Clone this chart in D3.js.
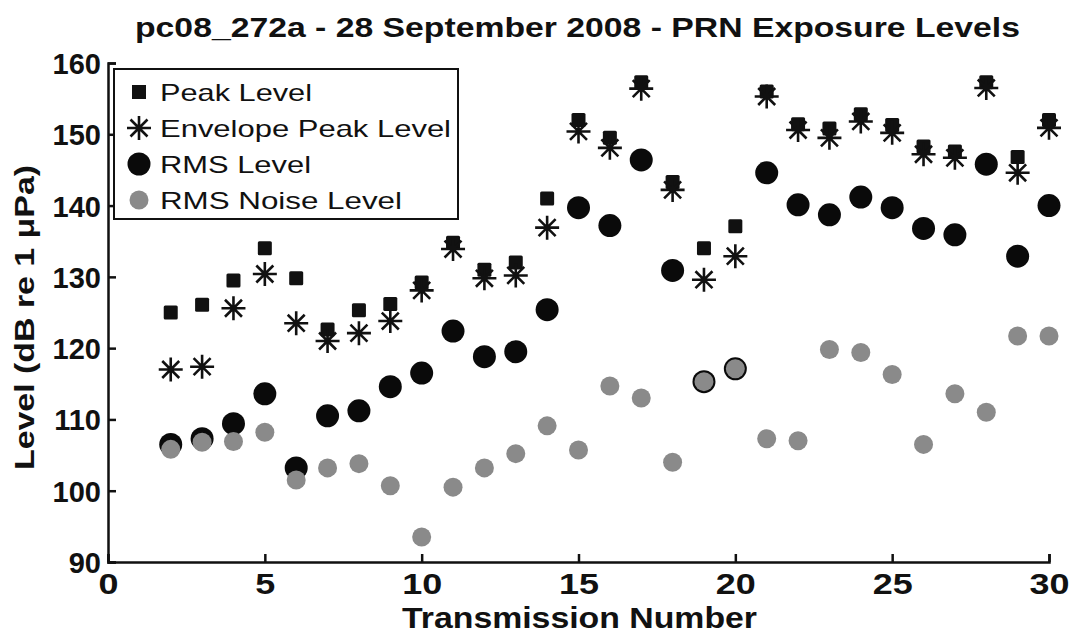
<!DOCTYPE html>
<html>
<head>
<meta charset="utf-8">
<script src="https://cdn.jsdelivr.net/npm/d3@7"></script>
<style>
  body { margin: 0; background: #fff; }
  svg { font-family: "Liberation Sans", Arial, sans-serif; }
</style>
</head>
<body>
<div id="chart"></div>
<script>
// transmission numbers and measured levels (dB re 1 uPa)
const transmissions = [2,3,4,5,6,7,8,9,10,11,12,13,14,15,16,17,18,19,20,21,22,23,24,25,26,27,28,29,30];
const peakLevel     = [125.0,126.1,129.5,134.0,129.8,122.6,125.3,126.2,129.2,134.8,131.0,132.0,141.0,152.0,149.5,157.3,143.3,134.0,137.1,156.0,151.4,150.8,152.8,151.3,148.3,147.6,157.3,146.8,152.0];
const envPeakLevel  = [117.0,117.4,125.6,130.4,123.5,121.0,122.1,123.8,128.1,133.9,129.8,130.2,136.9,150.4,148.1,156.4,142.2,129.6,132.9,155.3,150.6,149.5,151.8,150.2,147.2,146.7,156.5,144.6,150.9];
const rmsLevel      = [106.5,107.3,109.4,113.6,103.2,110.5,111.2,114.6,116.5,122.4,118.8,119.5,125.4,139.7,137.2,146.4,130.9,115.3,117.1,144.6,140.1,138.7,141.2,139.7,136.8,135.9,145.8,132.9,140.0];
const rmsNoiseLevel = [105.8,106.8,106.9,108.2,101.5,103.2,103.8,100.7,93.5,100.5,103.2,105.2,109.1,105.7,114.7,113.0,104.0,115.3,117.1,107.3,107.0,119.8,119.4,116.3,106.5,113.6,111.0,121.7,121.7];

const yTicks = [90,100,110,120,130,140,150,160];
const xTicks = [0,5,10,15,20,25,30];
const legendItems = ["Peak Level", "Envelope Peak Level", "RMS Level", "RMS Noise Level"];

const W = 1075, H = 635;
const margin = { top: 63, right: 26, bottom: 73, left: 108 };

const svg = d3.select("#chart").append("svg")
    .attr("width", W)
    .attr("height", H);

const x = d3.scaleLinear().domain([0, 30]).range([margin.left, W - margin.right]);
const y = d3.scaleLinear().domain([90, 160]).range([H - margin.bottom, margin.top]);

// title (the source picture is stretched sideways, so fit the width)
svg.append("text")
    .attr("x", 135).attr("y", 37)
    .attr("font-size", 28).attr("font-weight", "bold").attr("fill", "#111")
    .attr("textLength", 885).attr("lengthAdjust", "spacingAndGlyphs")
    .text("pc08_272a - 28 September 2008 - PRN Exposure Levels");

// axes, ticks pointing inward
const xAxis = svg.append("g")
    .attr("transform", `translate(0,${y(90)})`)
    .call(d3.axisBottom(x).tickValues(xTicks).tickSize(-8).tickPadding(11));
const yAxis = svg.append("g")
    .attr("transform", `translate(${x(0)},0)`)
    .call(d3.axisLeft(y).tickValues(yTicks).tickSize(-8).tickPadding(7));

[xAxis, yAxis].forEach(g => {
  g.select(".domain").attr("stroke", "#111").attr("stroke-width", 2.5);
  g.selectAll(".tick line").attr("stroke", "#111").attr("stroke-width", 2.5);
  g.selectAll(".tick text")
    .attr("font-size", 29).attr("font-weight", "bold")
    .attr("fill", "#111").attr("font-family", "Liberation Sans, Arial, sans-serif");
});
yAxis.selectAll(".tick text").attr("dy", "0.36em");
xAxis.selectAll(".tick text").attr("dy", "0.72em")
    .attr("transform", "scale(1.1,1)")
    .attr("x", 0);
xAxis.selectAll(".tick text").attr("transform", null)
    .attr("textLength", d => String(d).length * 20).attr("lengthAdjust", "spacingAndGlyphs");

// axis titles
svg.append("text")
    .attr("x", 402).attr("y", 628)
    .attr("font-size", 30).attr("font-weight", "bold").attr("fill", "#111")
    .attr("textLength", 355).attr("lengthAdjust", "spacingAndGlyphs")
    .text("Transmission Number");
svg.append("text")
    .attr("transform", "translate(34,470) rotate(-90)")
    .attr("font-size", 28).attr("font-weight", "bold").attr("fill", "#111")
    .attr("textLength", 305).attr("lengthAdjust", "spacingAndGlyphs")
    .text("Level (dB re 1 μPa)");

// marker helpers
const asterisk = (g, r) => {
  const p = [];
  [0, 45, 90, 135].forEach(a => {
    const rad = a * Math.PI / 180, dx = r * Math.cos(rad), dy = r * Math.sin(rad);
    p.push(`M${-dx},${-dy}L${dx},${dy}`);
  });
  g.append("path").attr("d", p.join("")).attr("stroke", "#111").attr("stroke-width", 2.6).attr("fill", "none");
};

const data = transmissions.map((t, i) => ({
  t, peak: peakLevel[i], env: envPeakLevel[i], rms: rmsLevel[i], noise: rmsNoiseLevel[i]
}));

// peak level squares
svg.append("g").selectAll("rect").data(data).join("rect")
    .attr("x", d => x(d.t) - 7).attr("y", d => y(d.peak) - 7)
    .attr("width", 14).attr("height", 14).attr("rx", 1.5)
    .attr("fill", "#111");

// envelope peak asterisks
svg.append("g").selectAll("g").data(data).join("g")
    .attr("transform", d => `translate(${x(d.t)},${y(d.env)})`)
    .each(function() { asterisk(d3.select(this), 12); });

// rms level circles
svg.append("g").selectAll("circle").data(data).join("circle")
    .attr("cx", d => x(d.t)).attr("cy", d => y(d.rms)).attr("r", 11.5)
    .attr("fill", "#0a0a0a");

// rms noise circles
svg.append("g").selectAll("circle").data(data).join("circle")
    .attr("cx", d => x(d.t)).attr("cy", d => y(d.noise)).attr("r", 9.5)
    .attr("fill", "#8a8a8a");

// legend
const lg = svg.append("g");
lg.append("rect")
    .attr("x", 114).attr("y", 69).attr("width", 344).attr("height", 150)
    .attr("fill", "#fff").attr("stroke", "#111").attr("stroke-width", 2);
const legendWidths = [152, 291, 151, 242];
legendItems.forEach((name, i) => {
  const base = 101 + i * 36;
  const cy = base - 9;
  const g = lg.append("g").attr("transform", `translate(139,${cy})`);
  if (i === 0) g.append("rect").attr("x", -7).attr("y", -7).attr("width", 14).attr("height", 14).attr("fill", "#111");
  if (i === 1) asterisk(g, 12);
  if (i === 2) g.append("circle").attr("r", 11.5).attr("fill", "#0a0a0a");
  if (i === 3) g.append("circle").attr("r", 9.5).attr("fill", "#8a8a8a");
  lg.append("text")
      .attr("x", 160).attr("y", base)
      .attr("font-size", 24).attr("fill", "#111")
      .attr("textLength", legendWidths[i]).attr("lengthAdjust", "spacingAndGlyphs")
      .text(name);
});
</script>
</body>
</html>
